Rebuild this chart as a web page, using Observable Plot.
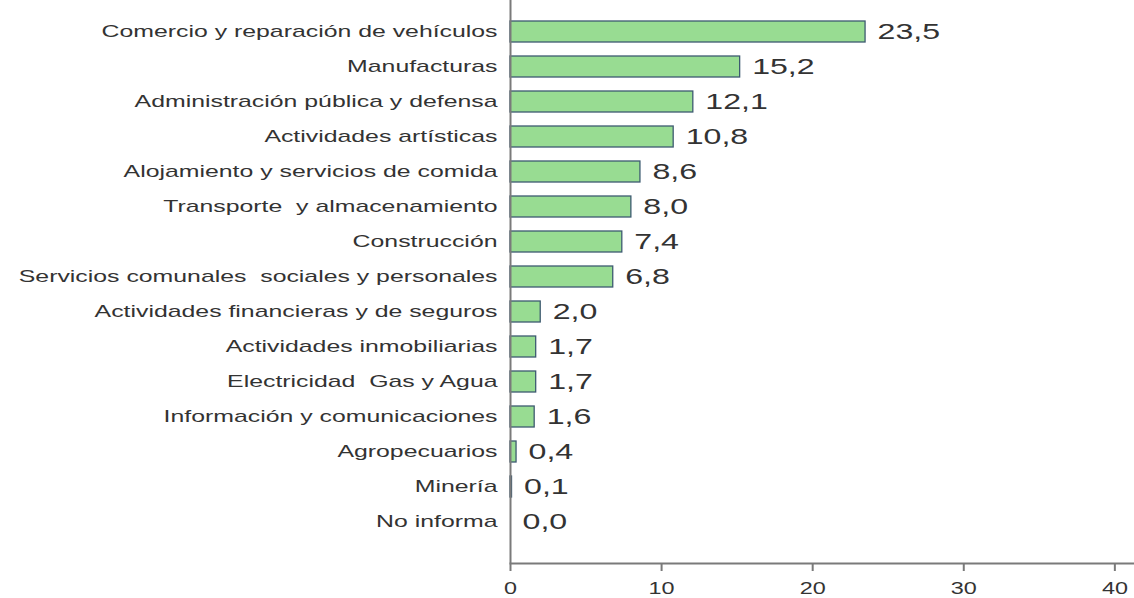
<!DOCTYPE html>
<html>
<head>
<meta charset="utf-8">
<script src="https://cdn.jsdelivr.net/npm/d3@7"></script>
<script src="https://cdn.jsdelivr.net/npm/@observablehq/plot@0.6"></script>
<style>
  html, body { margin: 0; padding: 0; background: #fff; }
  #chart svg { display: block; }
  #chart svg text { white-space: pre; }
</style>
</head>
<body>
<div id="chart"></div>
<script>
const categories = [
  "Comercio y reparación de vehículos",
  "Manufacturas",
  "Administración pública y defensa",
  "Actividades artísticas",
  "Alojamiento y servicios de comida",
  "Transporte  y almacenamiento",
  "Construcción",
  "Servicios comunales  sociales y personales",
  "Actividades financieras y de seguros",
  "Actividades inmobiliarias",
  "Electricidad  Gas y Agua",
  "Información y comunicaciones",
  "Agropecuarios",
  "Minería",
  "No informa"
];
const values = [23.5, 15.2, 12.1, 10.8, 8.6, 8.0, 7.4, 6.8, 2.0, 1.7, 1.7, 1.6, 0.4, 0.1, 0.0];
const xTicks = [0, 10, 20, 30, 40];

const data = categories.map((c, i) => ({category: c, value: values[i], label: values[i].toFixed(1).replace(".", ",")}));

const textColor = "#333333";
const axisColor = "#7a7a7a";

const chart = Plot.plot({
  width: 1134,
  height: 598,
  marginLeft: 510,
  marginRight: 0,
  marginTop: 0,
  marginBottom: 35,
  style: {fontFamily: "'Liberation Sans', Arial, sans-serif", color: textColor, background: "#fff"},
  x: {domain: [0, 41.3], ticks: xTicks, label: null},
  y: {domain: categories, paddingInner: 0.4, paddingOuter: 0.725, align: 0.4, label: null},
  marks: [
    Plot.barX(data, {x: "value", y: "category", fill: "#98dc92", stroke: "#3d5a70", strokeWidth: 1.3}),
    Plot.text(data, {x: "value", y: "category", text: "label", textAnchor: "start", dx: 12, fontSize: 22, fill: textColor}),
    Plot.ruleX([0], {stroke: axisColor, strokeWidth: 2}),
    Plot.frame({anchor: "bottom", stroke: axisColor, strokeWidth: 2}),
    Plot.axisX({ticks: xTicks, tickSize: 8, tickPadding: 11, fontSize: 16, stroke: axisColor, strokeWidth: 2, tickFormat: d => String(d)}),
    Plot.axisY({tickSize: 0, tickPadding: 13, fontSize: 17})
  ]
});

document.getElementById("chart").appendChild(chart);

// horizontal stretch of glyphs, as in the reference image
const stretch = 1.46;
chart.querySelectorAll("text").forEach(t => {
  const w = t.getComputedTextLength();
  if (w > 0) {
    t.setAttribute("textLength", (w * stretch).toFixed(1));
    t.setAttribute("lengthAdjust", "spacingAndGlyphs");
  }
});
</script>
</body>
</html>
